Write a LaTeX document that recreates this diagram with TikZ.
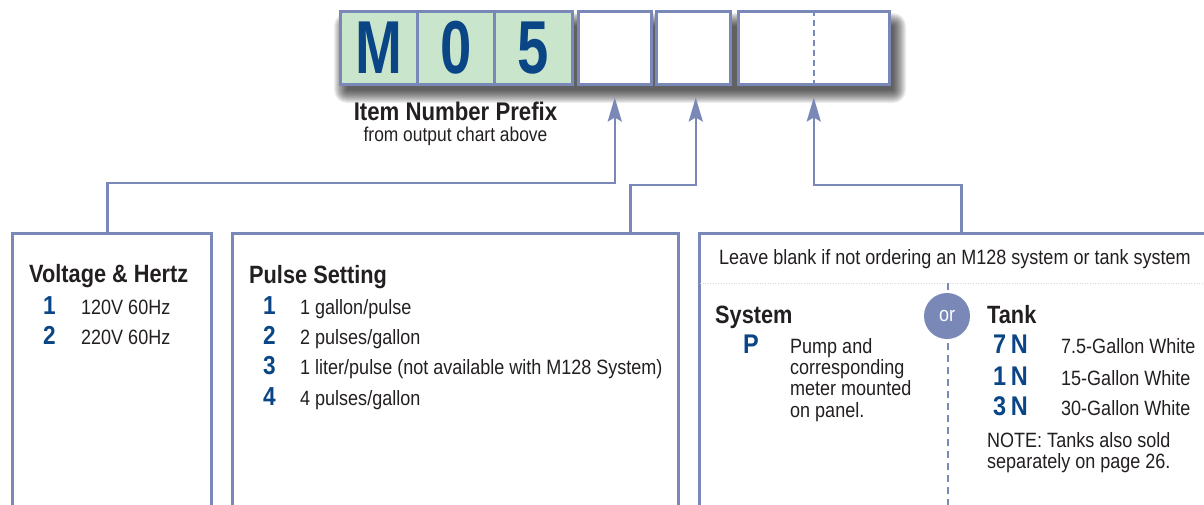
\documentclass[tikz,border=0pt]{standalone}
\usepackage{fontspec}
\setmainfont{Liberation Sans}[FakeStretch=0.87]
\newfontfamily\bigfont{Liberation Sans}[FakeStretch=0.75]
\usetikzlibrary{arrows.meta}
\definecolor{slate}{HTML}{7A88B8}
\definecolor{mint}{HTML}{C9E5CB}
\definecolor{navy}{HTML}{0A4586}
\definecolor{ink}{HTML}{231F20}
\tikzset{
  cell/.style={draw=slate, line width=2.5pt, inner sep=0pt, minimum height=73pt, anchor=north west},
  panel/.style={draw=slate, line width=2.5pt, inner sep=0pt, minimum height=300pt, anchor=north west},
  conn/.style={draw=slate, line width=2.5pt, -{Stealth[length=24pt,width=14pt,inset=4pt]}},
  head/.style={anchor=base west, inner sep=0pt, text=ink, font=\fontsize{25}{28}\selectfont\bfseries},
  num/.style={anchor=base west, inner sep=0pt, text=navy, font=\fontsize{26}{28}\selectfont\bfseries},
  txt/.style={anchor=base west, inner sep=0pt, text=ink, font=\fontsize{20.7}{21.3}\selectfont},
  big/.style={text=navy, font=\bigfont\fontsize{75}{75}\selectfont\bfseries}
}
\begin{document}
\begin{tikzpicture}[x=1pt,y=-1pt]
\useasboundingbox (0,0) rectangle (1204,504);
\clip (0,0) rectangle (1204,504);
% shadow under the code strip
\foreach \i in {0,...,13}{
  \fill[black, opacity=0.065, rounded corners=\i pt] (347-\i,26-\i) rectangle (893+\i,90+\i);
}
% code strip
\node[cell, fill=mint, minimum width=77pt, big] (m1) at (339,10) {M};
\node[cell, fill=mint, minimum width=77pt, big] (m2) at (416,10) {0};
\node[cell, fill=mint, minimum width=78pt, big] (m3) at (493,10) {5};
\node[cell, fill=white, minimum width=73pt] (c1) at (577,10) {};
\node[cell, fill=white, minimum width=74pt] (c2) at (655,10) {};
\node[cell, fill=white, minimum width=151pt] (c3) at (737,10) {};
\draw[slate, line width=2pt, dash pattern=on 6pt off 4pt] (c3.north) -- (c3.south);
% prefix label
\node[anchor=base, inner sep=0pt, text=ink, font=\fontsize{25.5}{26}\selectfont\bfseries] (pre) at (455.5,120) {Item Number Prefix};
\node[anchor=base, inner sep=0pt, text=ink, font=\fontsize{20}{22}\selectfont] (pre2) at (455.5,141) {from output chart above};
% panels
\node[panel, minimum width=199pt] (vbox) at (11,232) {};
\node[panel, minimum width=446pt] (pbox) at (231,232) {};
\node[panel, minimum width=524pt] (rbox) at (698,232) {};
% connectors
\draw[conn] ([xshift=-4.5pt]vbox.north) -- ++(0,-49) -| ([yshift=-12pt]c1.south);
\draw[conn] ([xshift=175pt]pbox.north) -- ++(0,-47) -| ([xshift=2.5pt,yshift=-12pt]c2.south);
\draw[conn] (rbox.north) -- ++(0,-47) -| ([yshift=-12pt]c3.south);
% voltage panel
\node[head] (vh) at (29,282) {Voltage \& Hertz};
\node[num] (v1) at (43,314) {1};
\node[txt] (v1t) at (81,314) {120V 60Hz};
\node[num] (v2) at (43,344) {2};
\node[txt] (v2t) at (81,344) {220V 60Hz};
% pulse panel
\node[head] (ph) at (249,283) {Pulse Setting};
\node[num] (p1) at (263,314) {1};
\node[txt] (p1t) at (300,314) {1 gallon/pulse};
\node[num] (p2) at (263,344) {2};
\node[txt] (p2t) at (300,344) {2 pulses/gallon};
\node[num] (p3) at (263,374) {3};
\node[txt] (p3t) at (300,374) {1 liter/pulse (not available with M128 System)};
\node[num] (p4) at (263,405) {4};
\node[txt] (p4t) at (300,405) {4 pulses/gallon};
% right panel
\node[txt] (lb) at (719,264) {Leave blank if not ordering an M128 system or tank system};
\draw[black!15, line width=0.6pt, dotted] (700,283) -- (1204,283);
\draw[slate, line width=2pt, dash pattern=on 7pt off 5pt] (948,283) -- (948,510);
\node[circle, fill=slate, minimum size=46pt, inner sep=0pt, text=white, font=\fontsize{20.7}{22}\selectfont] (or) at (947,316) {or};
\node[head] (sh) at (715,323) {System};
\node[num, font=\fontsize{27}{28}\selectfont\bfseries] (sp) at (743,353) {P};
\node[txt, align=left, anchor=north west] (spt) at (790,338) {Pump and\\corresponding\\meter mounted\\on panel.};
\node[head] (th) at (987,323) {Tank};
\node[num, font=\fontsize{27}{28}\selectfont\bfseries] (t7) at (993,353) {7\,N};
\node[txt] (t7t) at (1061,353) {7.5-Gallon White};
\node[num, font=\fontsize{27}{28}\selectfont\bfseries] (t1) at (993,385) {1\,N};
\node[txt] (t1t) at (1061,385) {15-Gallon White};
\node[num, font=\fontsize{27}{28}\selectfont\bfseries] (t3) at (993,415) {3\,N};
\node[txt] (t3t) at (1061,415) {30-Gallon White};
\node[txt, align=left, anchor=north west] (note) at (987,432) {NOTE: Tanks also sold\\separately on page 26.};
\end{tikzpicture}
\end{document}
